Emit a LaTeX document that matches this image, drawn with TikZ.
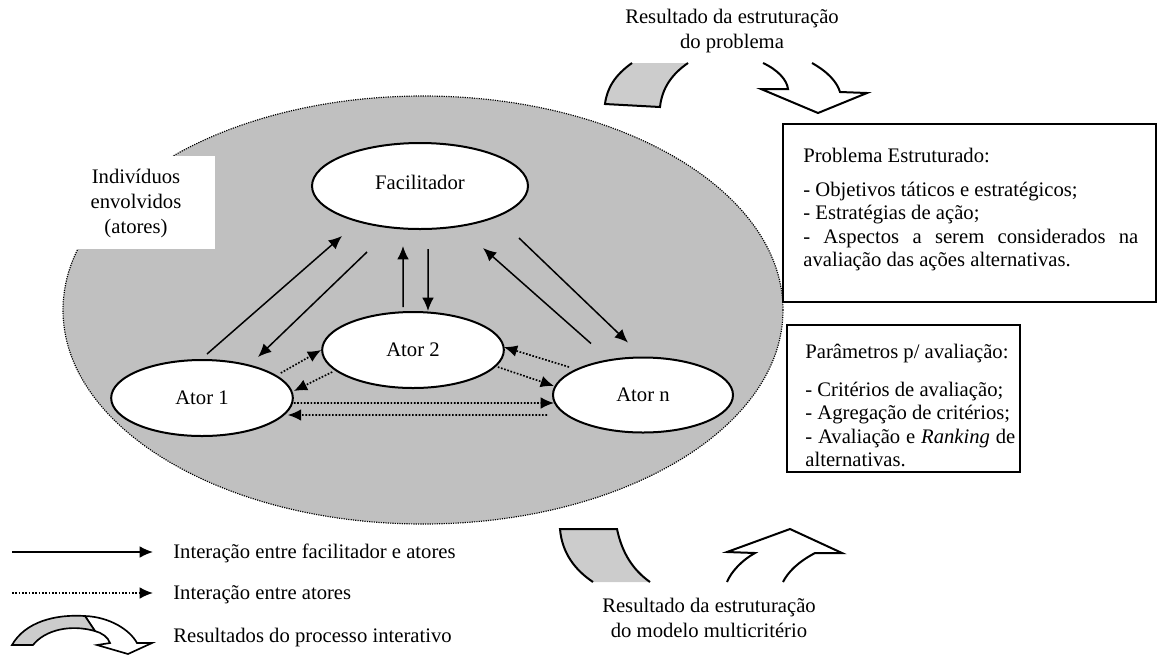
\documentclass[tikz,border=0pt]{standalone}
\usepackage{fontspec}
\setmainfont{Liberation Serif}
\usetikzlibrary{shapes.geometric,arrows.meta}
\definecolor{groupgray}{RGB}{192,192,192}
\definecolor{bandgray}{RGB}{204,204,204}
\hyphenpenalty=10000
\exhyphenpenalty=10000

\begin{document}
\begin{tikzpicture}[x=0.6pt,y=-0.6pt,font=\fontsize{12.4}{15}\selectfont,
   >={Latex[length=8pt,width=7pt]},
   actor/.style={ellipse,draw,line width=1.2pt,fill=white,inner sep=0pt,
      minimum width=109pt,minimum height=45.6pt},
   talk/.style={->,line width=0.9pt},
   chat/.style={->,line width=1pt,dash pattern=on 1pt off 1pt},
   shape line/.style={line width=1.2pt,line join=miter},
   infotext/.style={anchor=base west,inner sep=0pt,align=justify,
      font=\fontsize{12.4}{14.1}\selectfont}]
   \useasboundingbox (0,0) rectangle (1158,655);
   % Group of individuals (drawn first, below everything else)
   \path [fill=groupgray,draw=black,dash pattern=on 0.7pt off 0.7pt,line width=0.7pt]
        (423,310) ellipse [x radius=216pt,y radius=128.4pt];
   \fill [white] (0,156) rectangle (215,249);
   \node [align=center] (indiv) at (136,204) {Indivíduos\\envolvidos\\(atores)};
   % Facilitator and actors
   \node [actor,minimum width=129.6pt,minimum height=51.6pt] (fac) at (420,186)
        {\raisebox{4pt}{Facilitador}};
   \node [actor] (a2) at (413,350) {Ator 2};
   \node [actor] (a1) at (202,398) {Ator 1};
   \node [actor,minimum width=108pt,minimum height=45pt] (an) at (643,395) {Ator n};
   % Facilitator <-> actors
   \draw [talk] ([xshift=3pt,yshift=3pt]a1.north) -- ([xshift=-46.8pt,yshift=-3.6pt]fac.south);
   \draw [talk] ([xshift=-31.8pt,yshift=-13.2pt]fac.south) -- ([xshift=33.6pt,yshift=1.2pt]a1.north);
   \draw [talk] ([xshift=-6pt,yshift=2.4pt]a2.north) -- ([xshift=-10.2pt,yshift=-9.6pt]fac.south);
   \draw [talk] ([xshift=4.8pt,yshift=-11.4pt]fac.south) -- ([xshift=9pt]a2.north);
   \draw [talk] ([xshift=-31.2pt,yshift=7.8pt]an.north) -- ([xshift=37.8pt,yshift=-10.8pt]fac.south);
   \draw [talk] ([xshift=59.4pt,yshift=-4.8pt]fac.south) -- ([xshift=-9pt,yshift=8.4pt]an.north);
   % Actors <-> actors
   \draw [chat] ([xshift=-7.8pt,yshift=15pt]a1.east) -- (a2.west);
   \draw [chat] ([xshift=6.6pt,yshift=-13.2pt]a2.west) -- ([yshift=4.2pt]a1.east);
   \draw [chat] ([xshift=-4.2pt,yshift=-10.2pt]a2.east) -- ([xshift=1.2pt,yshift=5.4pt]an.west);
   \draw [chat] ([xshift=10.2pt,yshift=16.8pt]an.west) -- ([xshift=-0.6pt,yshift=1.8pt]a2.east);
   \draw [chat] ([yshift=-3pt]a1.east) -- ([xshift=1.2pt,yshift=-4.8pt]an.west);
   \draw [chat] ([xshift=-3pt,yshift=-12pt]an.west) -- ([xshift=-3.6pt,yshift=-10.2pt]a1.east);
   % Result of the problem structuring (top)
   \node [align=center] (restop) at (732,31) {Resultado da estruturação\\do problema};
   \path [fill=bandgray] (605,104) .. controls (607,88) and (615,75) .. (632,63)
        -- (688,63) .. controls (672,74) and (662,88) .. (660,107) -- cycle;
   \draw [shape line] (632,63) .. controls (615,75) and (607,88) .. (605,104)
        -- (660,107) .. controls (662,88) and (672,74) .. (688,63);
   \draw [shape line] (763,63) .. controls (778,70) and (787,80) .. (788,89)
        -- (761,89) -- (818,113) -- (867,93) -- (840,92)
        .. controls (837,82) and (828,72) .. (812,63);
   % Boxes on the right
   \draw [line width=1.2pt] (783,124) rectangle (1156,302);
   \node [infotext,text width=201pt] (prob) at (803,162)
        {Problema Estruturado:\par\vspace{6.3pt}
         - Objetivos táticos e estratégicos;\par
         - Estratégias de ação;\par
         - Aspectos a serem considerados na avaliação das ações alternativas.};
   \draw [line width=1.2pt] (787,325) rectangle (1020,472);
   \node [infotext,text width=126pt] (param) at (805,358)
        {Parâmetros p/ avaliação:\par\vspace{8.7pt}
         - Critérios de avaliação;\par
         - Agregação de critérios;\par
         - Avaliação e \textit{Ranking} de alternativas.};
   % Result of the multicriteria model (bottom)
   \path [fill=bandgray] (560,529) -- (617,529) .. controls (622,553) and (633,570) .. (650,582)
        -- (593,582) .. controls (575,570) and (562,553) .. (560,529) -- cycle;
   \draw [shape line] (593,582) .. controls (575,570) and (562,553) .. (560,529)
        -- (617,529) .. controls (622,553) and (633,570) .. (650,582);
   \draw [shape line] (727,582) .. controls (731,572) and (742,560) .. (755,553)
        -- (727,552) -- (790,529) -- (842,553) -- (815,553)
        .. controls (798,562) and (788,572) .. (783,582);
   \node [align=center] (resbot) at (709,618) {Resultado da estruturação\\do modelo multicritério};
   % Legend
   \coordinate (leg1s) at (12,552);
   \coordinate (leg1e) at (153,552);
   \coordinate (leg2s) at (12,593);
   \coordinate (leg2e) at (153,593);
   \draw [talk] (leg1s) -- (leg1e);
   \draw [chat] (leg2s) -- (leg2e);
   \node [anchor=base west,inner sep=0pt] (leg1) at (173,558) {Interação entre facilitador e atores};
   \node [anchor=base west,inner sep=0pt] (leg2) at (173,599) {Interação entre atores};
   \node [anchor=base west,inner sep=0pt] (leg3) at (173,642) {Resultados do processo interativo};
   \draw [shape line,line width=1pt,fill=white] (85,616) .. controls (110,617) and (130,630) .. (137,643)
        -- (152,643) -- (128,654) -- (97,645) -- (110,643)
        .. controls (108,637) and (102,633) .. (95,631) -- cycle;
   \draw [shape line,line width=1pt,fill=bandgray] (12,645) .. controls (25,622) and (55,614) .. (85,616)
        -- (95,631) .. controls (70,624) and (45,630) .. (33,645) -- cycle;
\end{tikzpicture}
\end{document}
